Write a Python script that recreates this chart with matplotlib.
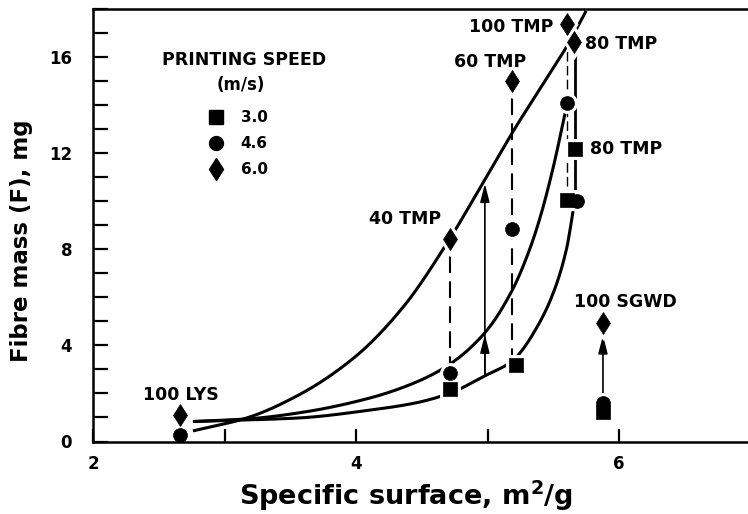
import numpy as np
import matplotlib
matplotlib.use("Agg")
import matplotlib.pyplot as plt
from matplotlib.lines import Line2D

plt.rcParams['font.family'] = ['DejaVu Sans']
plt.rcParams['font.weight'] = 'bold'

# ---------------- data ----------------
# measured points: specific surface (m2/g) and fibre mass (mg)
sq_x = [4.715, 5.217, 5.665, 5.605, 5.878]          # 3.0 m/s
sq_y = [2.19, 3.19, 12.15, 10.06, 1.23]
ci_x = [2.66, 4.715, 5.186, 5.68, 5.605, 5.878]     # 4.6 m/s
ci_y = [0.27, 2.85, 8.85, 10.0, 14.06, 1.6]
di_x = [2.66, 4.715, 5.186, 5.658, 5.605, 5.878]    # 6.0 m/s
di_y = [1.1, 8.4, 15.0, 16.6, 17.35, 4.93]

# fitted trend curves (control points)
c60_x = [2.76, 3.17, 3.57, 4.0, 4.36, 4.71, 4.96, 5.19, 5.40, 5.60, 5.75]
c60_y = [0.44, 0.98, 1.95, 3.55, 5.6, 8.4, 10.7, 12.85, 14.67, 16.4, 17.9]
c46_x = [2.76, 3.2, 3.6, 4.1, 4.45, 4.71, 4.98, 5.19, 5.32, 5.40, 5.50, 5.60]
c46_y = [0.83, 0.95, 1.22, 1.8, 2.45, 3.2, 4.52, 6.31, 7.98, 9.31, 11.4, 13.9]
c30_x = [2.76, 3.2, 3.57, 4.1, 4.45, 4.71, 4.98, 5.19, 5.25, 5.36, 5.48, 5.60, 5.66]
c30_y = [0.83, 0.9, 0.98, 1.3, 1.6, 2.0, 2.73, 3.35, 3.7, 4.6, 5.9, 7.98, 9.9]

# vertical connectors (x, y_low, y_high)
dash_40 = (4.715, 2.85, 8.4)
dash_60 = (5.19, 3.19, 15.0)
dash_100 = (5.605, 10.06, 17.35)
solid_80 = (5.665, 10.0, 16.6)

# arrows (x, y_start, y_end)
arrow_main = (4.98, 2.73, 10.72)
arrow_mid = (4.98, 2.73, 4.45)
arrow_sgwd = (5.878, 1.6, 4.42)

labels = ["100 TMP", "80 TMP", "60 TMP", "80 TMP", "40 TMP", "100 SGWD", "100 LYS"]
label_x = [5.50, 5.74, 5.02, 5.78, 4.65, 6.05, 2.67]
label_y = [17.23, 16.52, 15.77, 12.15, 9.23, 5.81, 1.94]
label_ha = ["right", "left", "center", "left", "right", "center", "center"]

legend_title = ["PRINTING SPEED", "(m/s)"]
speeds = ["3.0", "4.6", "6.0"]
xticks = [2, 3, 4, 5, 6]
xticklabels = ["2", "", "4", "", "6"]
yticks = [0, 4, 8, 12, 16]


def pchip(x, y, xn):
    x = np.asarray(x, float); y = np.asarray(y, float)
    h = np.diff(x); d = np.diff(y) / h
    n = len(x); m = np.zeros(n)
    m[0] = d[0]; m[-1] = d[-1]
    for k in range(1, n - 1):
        if d[k - 1] * d[k] <= 0:
            m[k] = 0
        else:
            w1 = 2 * h[k] + h[k - 1]; w2 = h[k] + 2 * h[k - 1]
            m[k] = (w1 + w2) / (w1 / d[k - 1] + w2 / d[k])
    idx = np.clip(np.searchsorted(x, xn) - 1, 0, n - 2)
    t = (xn - x[idx]) / h[idx]
    h00 = 2 * t**3 - 3 * t**2 + 1; h10 = t**3 - 2 * t**2 + t
    h01 = -2 * t**3 + 3 * t**2; h11 = t**3 - t**2
    return h00 * y[idx] + h10 * h[idx] * m[idx] + h01 * y[idx + 1] + h11 * h[idx] * m[idx + 1]


fig = plt.figure(figsize=(7.48, 5.14), dpi=100)
ax = fig.add_axes([93 / 748, 1 - 441.5 / 514, 655 / 748, 433 / 514])
ax.set_xlim(2, 2 + 655 / 131.5)
ax.set_ylim(0, 18)

LW = 2.2
for cx, cy in [(c60_x, c60_y), (c46_x, c46_y), (c30_x, c30_y)]:
    xn = np.linspace(cx[0], cx[-1], 300)
    ax.plot(xn, pchip(cx, cy, xn), color='black', lw=LW, zorder=2,
            solid_capstyle='butt')

for (vx, y0, y1) in [dash_40, dash_60]:
    ax.plot([vx, vx], [y0, y1], color='black', lw=1.5, ls=(0, (8, 4)), zorder=2)
ax.plot([dash_100[0]] * 2, dash_100[1:], color='black', lw=1.0, ls=(0, (7, 3)), zorder=2)
ax.plot([solid_80[0]] * 2, solid_80[1:], color='black', lw=2.0, zorder=2)

for (vx, y0, y1) in [arrow_main, arrow_mid, arrow_sgwd]:
    ax.annotate('', xy=(vx, y1), xytext=(vx, y0),
                arrowprops=dict(arrowstyle='-|>,head_length=1.1,head_width=0.28',
                                lw=1.2, color='black', shrinkA=0, shrinkB=0),
                zorder=2)

marker_specs = [(sq_x, sq_y, 's', 9.5), (ci_x, ci_y, 'o', 10), (di_x, di_y, 'd', 11.2)]
for mx, my, mk, ms in marker_specs:
    ax.plot(mx, my, ls='none', marker=mk, ms=ms, mfc='white', mec='white',
            mew=5, zorder=3, clip_on=False)
for mx, my, mk, ms in marker_specs:
    ax.plot(mx, my, ls='none', marker=mk, ms=ms, mfc='black', mec='black',
            mew=0.5, zorder=4, clip_on=False)

for t, x, y, ha in zip(labels, label_x, label_y, label_ha):
    ax.text(x, y, t, ha=ha, va='center', fontsize=12.5, fontweight='bold', zorder=5)

# legend: title lines as text, entries as a real legend
ax.text((244 - 93) / 655, (441.5 - 60) / 433, legend_title[0], transform=ax.transAxes,
        ha='center', va='center', fontsize=12.5, fontweight='bold')
ax.text((241 - 93) / 655, (441.5 - 85) / 433, legend_title[1], transform=ax.transAxes,
        ha='center', va='center', fontsize=12, fontweight='bold')
handles = [Line2D([], [], ls='none', marker=mk, ms=ms, color='black')
           for _, _, mk, ms in marker_specs]
leg = ax.legend(handles, speeds, loc='upper center',
                bbox_to_anchor=((238 - 93) / 655, (441.5 - 110) / 433), frameon=False,
                prop=dict(size=11, weight='bold'),
                handlelength=1.0, handletextpad=1.1, labelspacing=0.72,
                borderpad=0, borderaxespad=0)

# axes styling
for s in ['left', 'bottom', 'top']:
    ax.spines[s].set_linewidth(1.8)
    ax.spines[s].set_zorder(6)
ax.spines['right'].set_visible(False)

ax.set_xticks(xticks)
ax.set_xticklabels(xticklabels)
ax.set_yticks(yticks)
ax.set_yticks(np.arange(0, 19, 1), minor=True)
ax.tick_params(axis='y', which='both', direction='in', length=11, width=1.6,
               labelsize=12, pad=15)
ax.tick_params(axis='x', which='both', direction='in', length=9.5, width=1.6,
               labelsize=12, pad=10, top=False)
for lab in ax.get_xticklabels() + ax.get_yticklabels():
    lab.set_fontweight('bold')

ax.set_xlabel('Specific surface, m$^{\\mathbf{2}}$/g', fontsize=19.5, fontweight='bold')
ax.xaxis.set_label_coords((406 - 93) / 655, -(496 - 441.5) / 433)
ax.xaxis.label.set_va('center')
ax.set_ylabel('Fibre mass (F), mg', fontsize=16.5, fontweight='bold')
ax.yaxis.set_label_coords((22 - 93) / 655, (441.5 - 241) / 433)
ax.yaxis.label.set_va('center')

fig.savefig('out.png', dpi=100)
